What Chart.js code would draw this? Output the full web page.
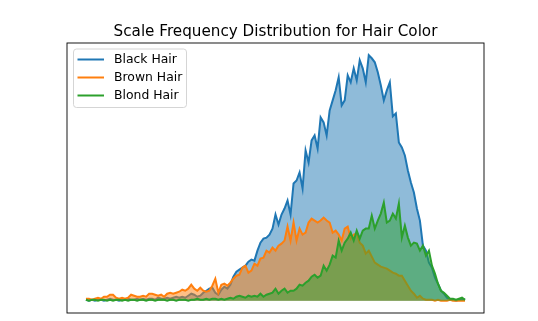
<!DOCTYPE html>
<html>
<head>
<meta charset="utf-8">
<script src="https://cdn.jsdelivr.net/npm/chart.js@4/dist/chart.umd.min.js"></script>
<style>
  html, body { margin: 0; padding: 0; background: #fff; }
  #wrap { width: 538px; height: 321px; }
</style>
</head>
<body>
<div id="wrap"><canvas id="hairChart" width="538" height="321"></canvas></div>
<script>
// Frequency per scale bin
const blackHair = [
  1, 0, 1, 0, 1, 1, 0, 1, 2, 1, 1, 0, 1, 1, 2, 1, 1, 2, 1, 2,
  1, 2, 2, 1, 3, 2, 2, 3, 2, 3, 4, 3, 4, 3, 5, 7, 6, 4, 5, 8,
  10, 12, 13, 8, 6, 11, 14, 12, 16, 24, 29, 31, 33, 35, 39, 41, 40, 50, 58, 62,
  63, 66, 72, 86, 76, 86, 92, 100, 86, 117, 120, 128, 112, 150, 138, 160, 165, 152, 183, 178,
  165, 190, 200, 210, 223, 195, 200, 225, 218, 232, 220, 240, 232, 218, 245, 242, 238, 228, 215, 200,
  210, 218, 184, 187, 158, 153, 145, 130, 118, 108, 92, 80, 55, 50, 38, 33, 23, 17, 10, 7,
  3, 1, 1, 0, 1, 2, 1
];
const brownHair = [
  2, 2, 1, 2, 3, 2, 4, 4, 6, 6, 3, 2, 3, 2, 3, 6, 5, 4, 4, 5,
  4, 7, 7, 6, 5, 6, 4, 7, 8, 7, 8, 9, 11, 10, 12, 16, 12, 10, 13, 10,
  9, 10, 15, 22, 8, 16, 17, 15, 18, 22, 25, 26, 33, 35, 28, 30, 37, 35, 42, 43,
  50, 48, 53, 50, 55, 57, 60, 74, 60, 78, 60, 72, 66, 68, 78, 82, 80, 78, 80, 83,
  80, 78, 68, 70, 66, 60, 72, 74, 62, 66, 67, 58, 55, 47, 50, 44, 38, 36, 34, 33,
  32, 30, 28, 27, 25, 25, 20, 15, 10, 7, 3, 5, 2, 1, 1, 1, 0, 1, 0, 0,
  0, 1, 0, 0, 0, 0, 0
];
const blondHair = [
  1, 0, 1, 1, 0, 1, 1, 0, 1, 0, 1, 1, 0, 1, 0, 1, 1, 0, 1, 1,
  0, 1, 1, 0, 1, 1, 1, 0, 1, 1, 0, 1, 1, 1, 0, 1, 1, 2, 1, 1,
  2, 1, 2, 2, 1, 2, 1, 2, 3, 2, 4, 5, 4, 3, 5, 4, 5, 4, 7, 4,
  6, 7, 8, 12, 7, 10, 12, 8, 10, 10, 12, 16, 15, 18, 20, 24, 26, 23, 25, 35,
  30, 36, 45, 43, 60, 50, 58, 62, 68, 60, 70, 62, 70, 72, 72, 85, 72, 80, 87, 98,
  78, 80, 87, 82, 97, 63, 75, 63, 55, 58, 57, 50, 55, 45, 50, 35, 27, 17, 10, 8,
  5, 2, 2, 1, 2, 3, 1
];
const bins = blackHair.map((v, i) => i);

const seriesNames = ["Black Hair", "Brown Hair", "Blond Hair"];
const seriesColors = ["#1f77b4", "#ff7f0e", "#2ca02c"];
const seriesFills = ["rgba(31,119,180,0.5)", "rgba(255,127,14,0.5)", "rgba(44,160,44,0.5)"];
const chartTitle = "Scale Frequency Distribution for Hair Color";

function toPoints(values) {
  return bins.map((b, i) => ({ x: b, y: values[i] }));
}

// matplotlib style axes frame, title and legend
const mplDecor = {
  id: "mplDecor",
  afterDraw(chart) {
    const ctx = chart.ctx;
    const a = chart.chartArea;
    ctx.save();
    ctx.strokeStyle = "#000";
    ctx.lineWidth = 0.9;
    ctx.strokeRect(a.left, a.top, a.right - a.left, a.bottom - a.top);

    ctx.fillStyle = "#000";
    ctx.font = "15.2px 'DejaVu Sans'";
    ctx.textAlign = "center";
    ctx.textBaseline = "alphabetic";
    ctx.fillText(chartTitle, (a.left + a.right) / 2, 35.5);

    // legend box
    const bx = 73.5, by = 49, bw = 113, bh = 58.5, r = 3;
    ctx.beginPath();
    ctx.moveTo(bx + r, by);
    ctx.arcTo(bx + bw, by, bx + bw, by + bh, r);
    ctx.arcTo(bx + bw, by + bh, bx, by + bh, r);
    ctx.arcTo(bx, by + bh, bx, by, r);
    ctx.arcTo(bx, by, bx + bw, by, r);
    ctx.closePath();
    ctx.fillStyle = "rgba(255,255,255,0.8)";
    ctx.fill();
    ctx.strokeStyle = "#d0d0d0";
    ctx.lineWidth = 0.9;
    ctx.stroke();

    ctx.font = "12.4px 'DejaVu Sans'";
    ctx.textAlign = "left";
    ctx.textBaseline = "middle";
    seriesNames.forEach((name, i) => {
      const y = 59.5 + i * 18;
      ctx.strokeStyle = seriesColors[i];
      ctx.lineWidth = 2;
      ctx.beginPath();
      ctx.moveTo(77.5, y);
      ctx.lineTo(104, y);
      ctx.stroke();
      ctx.fillStyle = "#000";
      ctx.fillText(name, 114, y + 0.5);
    });
    ctx.restore();
  }
};

const ymax = Math.max(...blackHair, ...brownHair, ...blondHair);
const xmax = bins[bins.length - 1];

new Chart(document.getElementById("hairChart").getContext("2d"), {
  type: "line",
  data: {
    datasets: [blackHair, brownHair, blondHair].map((vals, i) => ({
      label: seriesNames[i],
      data: toPoints(vals),
      borderColor: seriesColors[i],
      backgroundColor: seriesFills[i],
      borderWidth: 2,
      pointRadius: 0,
      tension: 0,
      fill: "origin",
      order: 3 - i
    }))
  },
  options: {
    responsive: false,
    animation: false,
    layout: { padding: { left: 67, top: 43, right: 54, bottom: 8 } },
    plugins: {
      legend: { display: false },
      title: { display: false },
      tooltip: { enabled: false }
    },
    scales: {
      x: { type: "linear", display: false, min: -0.05 * xmax, max: 1.05 * xmax },
      y: { type: "linear", display: false, min: -0.05 * ymax, max: 1.05 * ymax }
    }
  },
  plugins: [mplDecor]
});
</script>
</body>
</html>
